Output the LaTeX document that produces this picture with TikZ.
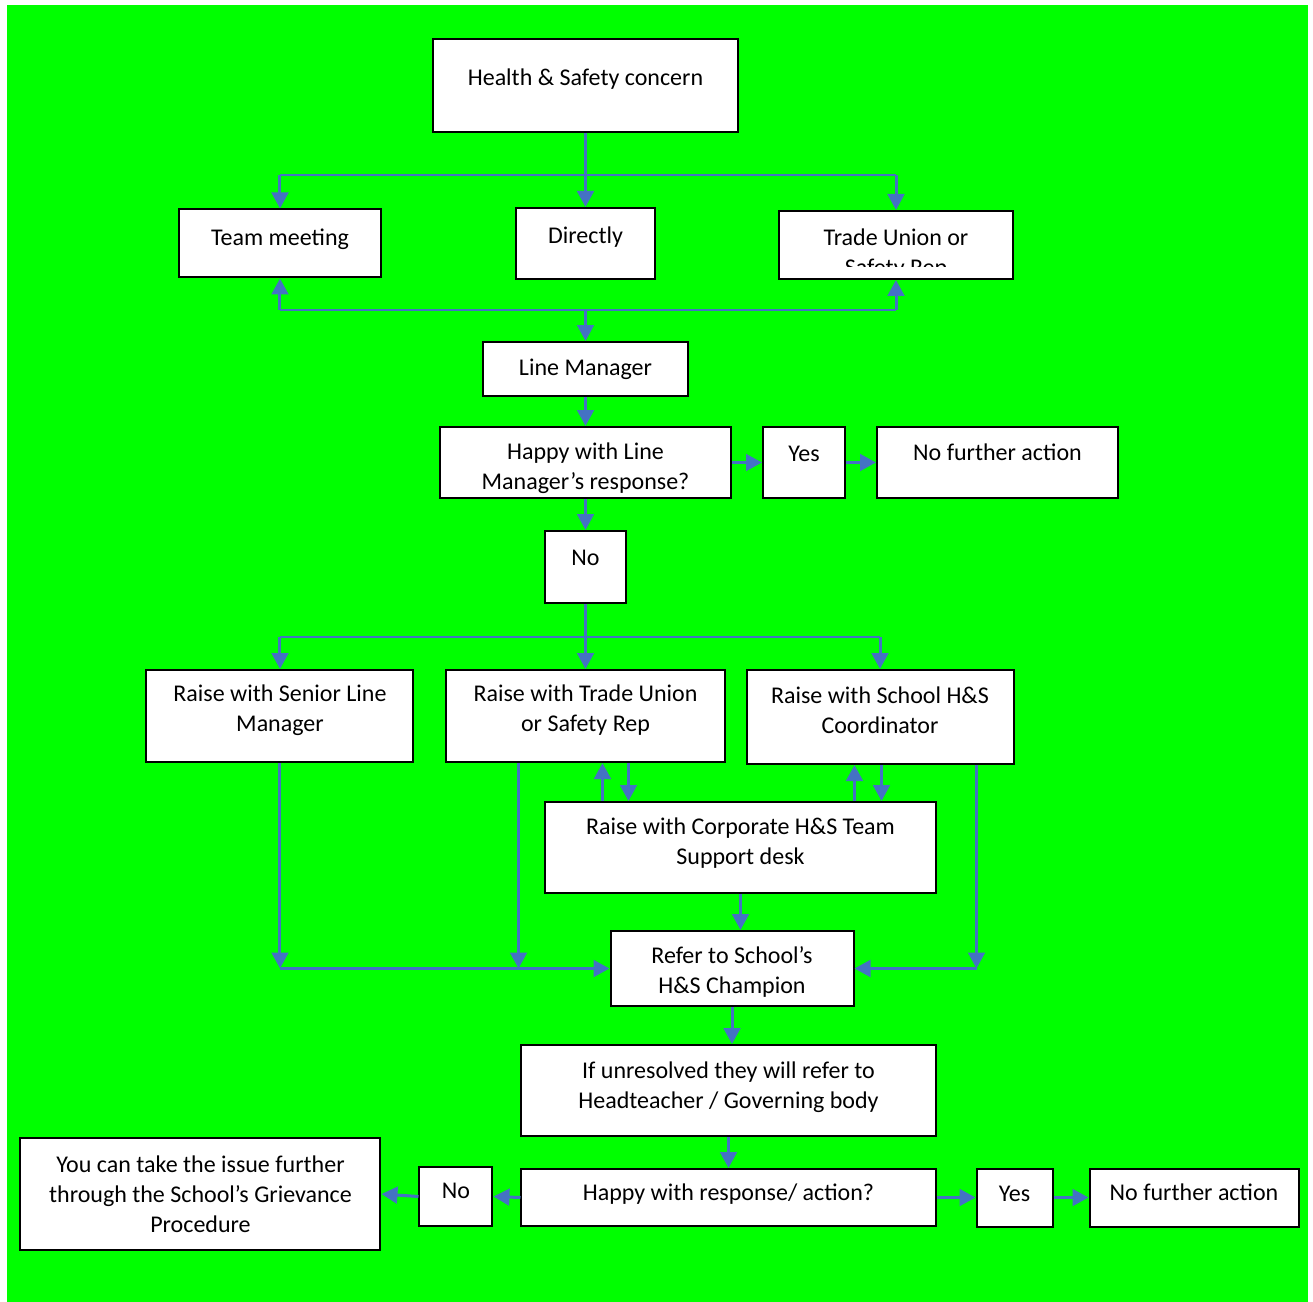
\documentclass[tikz,border=0pt]{standalone}
\usepackage{fontspec}
\setmainfont{Carlito}
\usepackage{tikz}
\usetikzlibrary{arrows.meta}
\usetikzlibrary{calc}
\definecolor{bggreen}{rgb}{0, 1, 0}
\definecolor{linkblue}{RGB}{68, 114, 196}
\tikzstyle{box} = [rectangle, text centered, align=center, draw=black, line width=1.5pt, fill=white, inner sep=2pt, font=\fontsize{18}{22.5}\selectfont]
\tikzstyle{boxtext} = [align=center, inner sep=0pt, font=\fontsize{18}{22.5}\selectfont]
\tikzset{toptext/.style={execute at end node={\rule[-#1]{0pt}{#1}}}, toptext/.default=11pt}
\tikzset{lowtext/.style={execute at begin node={\rule{0pt}{#1}}}, lowtext/.default=44pt}
\tikzstyle{arrow} = [line width=2.25pt, draw=linkblue, -{Triangle[length=12pt, width=12.5pt]}]
\tikzstyle{bar} = [line width=1.1pt, draw=linkblue]

\begin{document}
\begin{tikzpicture}[node distance=75pt]
	\fill[white] (-439.125pt,64.125pt) rectangle (545.625pt,-912.375pt);
	\fill[bggreen] (-433.875pt,60.375pt) rectangle (541.875pt,-912.375pt);
	\node (concern) [box, toptext=13pt, minimum width=228.75pt, minimum height=69.75pt] {Health \& Safety concern};
	\node (direct) [box, toptext=13pt, below of=concern, yshift=-43.5pt, minimum width=104.25pt, minimum height=53.25pt] {Directly};
	\node (team) [box, toptext=10pt, left of=direct, xshift=-154.125pt, minimum width=151.5pt, minimum height=51pt] {Team meeting};
	\node (union) [box, right of=direct, xshift=157.875pt, yshift=-1.125pt, minimum width=175.5pt, minimum height=51pt,
		path picture={\clip ([yshift=9pt]path picture bounding box.south west) rectangle (path picture bounding box.north east);
			\node [boxtext, anchor=north] at ([yshift=-6pt]path picture bounding box.north) {Trade Union or\\Safety Rep};}] {};
	\node (manager) [box, below of=direct, yshift=-19.125pt, minimum width=153.75pt, minimum height=40.5pt] {Line Manager};
	\node (happyline) [box, lowtext=44pt, below of=manager, yshift=4.875pt, minimum width=218.25pt, minimum height=53.25pt] {Happy with Line\\Manager’s response?};
	\node (yesline) [box, toptext=13pt, right of=happyline, xshift=88.875pt, minimum width=61.5pt, minimum height=53.25pt] {Yes};
	\node (doneline) [box, toptext=16pt, right of=yesline, xshift=70.125pt, minimum width=180.75pt, minimum height=53.25pt] {No further action};
	\node (noline) [box, toptext=14.5pt, below of=happyline, yshift=-3.375pt, minimum width=60pt, minimum height=54pt] {No};
	\node (raiseunion) [box, toptext=11.5pt, below of=noline, yshift=-36.75pt, minimum width=208.5pt, minimum height=69pt] {Raise with Trade Union\\or Safety Rep};
	\node (senior) [box, toptext=11.5pt, left of=raiseunion, xshift=-154.125pt, minimum width=200.25pt, minimum height=69pt] {Raise with Senior Line\\Manager};
	\node (school) [box, toptext=10pt, right of=raiseunion, xshift=145.875pt, yshift=-0.75pt, minimum width=200.25pt, minimum height=70.5pt] {Raise with School H\&S\\Coordinator};
	\node (corporate) [box, toptext=10pt, below of=raiseunion, xshift=116.25pt, yshift=-23.625pt, minimum width=292.5pt, minimum height=68.25pt] {Raise with Corporate H\&S Team\\Support desk};
	\node (champion) [box, lowtext=41pt, below of=corporate, xshift=-6.375pt, yshift=-15.75pt, minimum width=182.25pt, minimum height=56.25pt] {Refer to School’s\\H\&S Champion};
	\node (unresolved) [box, toptext=8.5pt, below of=champion, xshift=-2.625pt, yshift=-16.5pt, minimum width=310.5pt, minimum height=68.25pt] {If unresolved they will refer to\\Headteacher / Governing body};
	\node (happyend) [box, toptext=8.5pt, below of=unresolved, yshift=-5.25pt, minimum width=310.5pt, minimum height=42.75pt] {Happy with response/ action?};
	\node (yesend) [box, toptext=5.5pt, right of=happyend, xshift=139.5pt, minimum width=57pt, minimum height=43.5pt] {Yes};
	\node (doneend) [box, toptext=8.5pt, right of=yesend, xshift=59.625pt, minimum width=156.75pt, minimum height=43.5pt] {No further action};
	\node (noend) [box, toptext=8.5pt, left of=happyend, xshift=-129.375pt, yshift=0.75pt, minimum width=54.75pt, minimum height=44.25pt] {No};
	\node (grievance) [box, left of=noend, xshift=-116.625pt, yshift=1.875pt, minimum width=270pt, minimum height=84pt] {You can take the issue further\\through the School’s Grievance\\Procedure};
	%lines
	\coordinate (bar1) at ([yshift=-31.5pt]concern.south);
	\draw [bar] (team.north |- bar1) -- (union.north |- bar1);
	\draw [arrow] (concern.south) -- (direct.north);
	\draw [arrow] (team.north |- bar1) -- (team.north);
	\draw [arrow] (union.north |- bar1) -- (union.north);
	\coordinate (bar2) at ([yshift=23.25pt]manager.north);
	\draw [bar] (team.south |- bar2) -- (union.south |- bar2);
	\draw [arrow] (team.south |- bar2) -- (team.south);
	\draw [arrow] (union.south |- bar2) -- (union.south);
	\draw [arrow] (bar2) -- (manager.north);
	\draw [arrow] (manager.south) -- (happyline.north);
	\draw [arrow] (happyline.east) -- (yesline.west);
	\draw [arrow] (yesline.east) -- (doneline.west);
	\draw [arrow] (happyline.south) -- (noline.north);
	\coordinate (bar3) at ([yshift=-24.75pt]noline.south);
	\draw [bar] (senior.north |- bar3) -- (school.north |- bar3);
	\draw [arrow] (noline.south) -- (raiseunion.north);
	\draw [arrow] (senior.north |- bar3) -- (senior.north);
	\draw [arrow] (school.north |- bar3) -- (school.north);
	% legs down to the champion
	\coordinate (seniorfoot) at (senior.south |- champion.west);
	\draw [arrow] (senior.south) -- (seniorfoot);
	\draw [arrow] (seniorfoot) -- (champion.west);
	\coordinate (unionleg) at ([xshift=54.75pt]raiseunion.south west);
	\draw [arrow] (unionleg) -- (unionleg |- champion.west);
	\coordinate (schoolleg) at ([xshift=-28.5pt]school.south east);
	\draw [arrow] (schoolleg) -- (schoolleg |- champion.east);
	\draw [arrow] (schoolleg |- champion.east) -- (champion.east);
	% to and from the corporate desk
	\coordinate (upa) at ([xshift=43.5pt]corporate.north west);
	\coordinate (downa) at ([xshift=63pt]corporate.north west);
	\coordinate (upb) at ([xshift=-61.5pt]corporate.north east);
	\coordinate (downb) at ([xshift=-41.25pt]corporate.north east);
	\draw [arrow] (upa) -- (upa |- raiseunion.south);
	\draw [arrow] (downa |- raiseunion.south) -- (downa);
	\draw [arrow] (upb) -- (upb |- school.south);
	\draw [arrow] (downb |- school.south) -- (downb);
	\draw [arrow] (corporate.south) -- (corporate.south |- champion.north);
	\draw [arrow] (champion.south) -- (champion.south |- unresolved.north);
	\draw [arrow] (unresolved.south) -- (unresolved.south |- happyend.north);
	\draw [arrow] (happyend.east) -- (yesend.west);
	\draw [arrow] (yesend.east) -- (doneend.west);
	\draw [arrow] (happyend.west) -- (noend.east);
	\draw [arrow] (noend.west) -- (grievance.east);
\end{tikzpicture}
\end{document}
